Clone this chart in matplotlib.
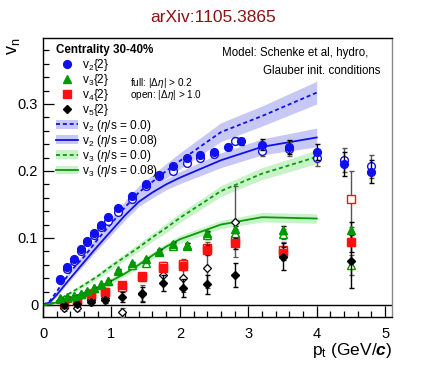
import matplotlib
matplotlib.use("Agg")
import matplotlib.pyplot as plt
from matplotlib import font_manager
from matplotlib.lines import Line2D
from matplotlib.patches import Patch
from matplotlib.ticker import MultipleLocator, FixedLocator, FuncFormatter

names = {f.name for f in font_manager.fontManager.ttflist}
FONT = "Liberation Sans Narrow" if "Liberation Sans Narrow" in names else "Liberation Sans"
plt.rcParams['font.family'] = [FONT, 'DejaVu Sans']
plt.rcParams['mathtext.fontset'] = 'custom'
plt.rcParams['mathtext.rm'] = FONT
plt.rcParams['mathtext.it'] = FONT + ':italic'
plt.rcParams['mathtext.bf'] = FONT + ':bold'
try:
    plt.rcParams['mathtext.bfit'] = FONT + ':italic:bold'
except KeyError:
    pass

# ---------------- data ----------------
v2_pt = [0.25, 0.35, 0.45, 0.55, 0.65, 0.75, 0.85, 0.95, 1.1, 1.3, 1.5, 1.7, 1.9,
         2.1, 2.3, 2.5, 2.7, 2.9, 3.2, 3.6, 4.0, 4.4, 4.8]
v2_full = [0.039, 0.056, 0.068, 0.083, 0.096, 0.108, 0.119, 0.132, 0.145, 0.162, 0.180, 0.194, 0.208,
           0.219, 0.224, 0.229, 0.236, 0.244, 0.239, 0.236, 0.229, 0.211, 0.199]
v2_full_err = [0.001, 0.001, 0.001, 0.001, 0.001, 0.001, 0.001, 0.001, 0.001, 0.001, 0.002, 0.002, 0.002,
               0.002, 0.003, 0.003, 0.004, 0.005, 0.008, 0.010, 0.012, 0.018, 0.017]
v2o_pt = [0.25, 0.35, 0.45, 0.55, 0.65, 0.75, 0.85, 0.95, 1.1, 1.3, 1.5, 1.7, 1.9,
          2.1, 2.3, 2.5, 2.8, 3.2, 3.6, 4.0, 4.4, 4.8]
v2_open = [0.037, 0.053, 0.066, 0.081, 0.094, 0.105, 0.116, 0.126, 0.139, 0.158, 0.177, 0.192, 0.200,
           0.212, 0.220, 0.226, 0.245, 0.230, 0.233, 0.220, 0.216, 0.207]
v2_open_err = [0.001, 0.001, 0.001, 0.001, 0.001, 0.001, 0.001, 0.001, 0.001, 0.002, 0.002, 0.002, 0.002,
               0.003, 0.003, 0.004, 0.005, 0.008, 0.010, 0.012, 0.018, 0.017]

v3_pt = [0.25, 0.35, 0.45, 0.55, 0.65, 0.75, 0.85, 0.95, 1.1, 1.3, 1.5, 1.7, 1.9, 2.1, 2.4, 2.8, 3.5, 4.5]
v3_full = [0.010, 0.012, 0.014, 0.017, 0.021, 0.026, 0.031, 0.036, 0.052, 0.062, 0.068, 0.081, 0.091,
           0.090, 0.107, 0.113, 0.112, 0.112]
v3_full_err = [0.001, 0.001, 0.001, 0.001, 0.001, 0.001, 0.001, 0.001, 0.002, 0.002, 0.002, 0.003, 0.003,
               0.003, 0.004, 0.005, 0.006, 0.012]
v3_open = [0.009, 0.011, 0.013, 0.016, 0.020, 0.025, 0.030, 0.035, 0.050, 0.060, 0.062, 0.079, 0.088,
           0.088, 0.104, 0.108, 0.106, 0.060]
v3_open_err = [0.001, 0.001, 0.001, 0.001, 0.001, 0.001, 0.002, 0.002, 0.002, 0.003, 0.003, 0.003, 0.004,
               0.004, 0.005, 0.006, 0.007, 0.015]

v45_pt = [0.3, 0.5, 0.7, 0.9, 1.15, 1.45, 1.75, 2.05, 2.4, 2.8, 3.5, 4.5]
v4_full = [0.0035, 0.0075, 0.016, 0.020, 0.030, 0.043, 0.055, 0.058, 0.082, 0.092, 0.077, 0.094]
v4_full_err = [0.003, 0.003, 0.003, 0.003, 0.004, 0.004, 0.005, 0.006, 0.007, 0.008, 0.010, 0.015]
v4_open = [0.002, 0.006, 0.014, 0.019, 0.027, 0.041, 0.058, 0.061, 0.085, 0.097, 0.082, 0.158]
v4_open_err = [0.004, 0.004, 0.004, 0.004, 0.005, 0.005, 0.006, 0.008, 0.009, 0.010, 0.012, 0.042]
v5_full = [0.000, 0.002, 0.004, 0.008, 0.012, 0.016, 0.033, 0.025, 0.031, 0.045, 0.072, 0.065]
v5_full_err = [0.004, 0.004, 0.004, 0.005, 0.007, 0.011, 0.012, 0.013, 0.014, 0.018, 0.020, 0.040]
v5o_pt = [0.3, 0.5, 0.7, 0.9, 1.15, 1.45, 1.75, 2.05, 2.4, 2.8]
v5_open = [-0.004, -0.004, 0.008, 0.010, -0.011, 0.018, 0.045, 0.040, 0.055, 0.124]
v5_open_err = [0.005, 0.005, 0.005, 0.006, 0.007, 0.012, 0.015, 0.020, 0.030, 0.053]

model_pt = [0, 0.1, 0.2, 0.4, 0.6, 0.8, 1.0, 1.2, 1.4, 1.6, 1.8, 2.0, 2.6, 3.2, 4.0]
v2_ideal = [0, 0.006, 0.020, 0.050, 0.072, 0.098, 0.122, 0.146, 0.168, 0.184, 0.200, 0.215, 0.258, 0.282, 0.317]
v2_ideal_band = [0, 0.001, 0.002, 0.004, 0.006, 0.007, 0.008, 0.009, 0.010, 0.010, 0.011, 0.012, 0.014, 0.015, 0.017]
v2_visc = [0, 0.004, 0.015, 0.040, 0.064, 0.088, 0.111, 0.134, 0.154, 0.168, 0.180, 0.190, 0.216, 0.236, 0.250]
v2_visc_band = [0, 0.001, 0.002, 0.003, 0.004, 0.005, 0.006, 0.007, 0.007, 0.008, 0.008, 0.009, 0.011, 0.012, 0.014]
v3_ideal = [0, 0.0015, 0.006, 0.018, 0.030, 0.043, 0.058, 0.072, 0.086, 0.101, 0.115, 0.130, 0.170, 0.196, 0.221]
v3_ideal_band = [0, 0.0005, 0.001, 0.002, 0.003, 0.004, 0.005, 0.005, 0.006, 0.006, 0.007, 0.007, 0.008, 0.009, 0.010]
v3_visc = [0, 0.001, 0.004, 0.011, 0.018, 0.026, 0.036, 0.047, 0.060, 0.074, 0.087, 0.098, 0.120, 0.131, 0.129]
v3_visc_band = [0, 0.0005, 0.001, 0.002, 0.003, 0.003, 0.004, 0.004, 0.005, 0.005, 0.005, 0.006, 0.006, 0.007, 0.007]

# ---------------- style ----------------
BLUE = '#1010ee'
BLUE_BAND = '#c8c8f6'
GREEN = '#009a00'
GREEN_LINE = '#0a9a0a'
GREEN_BAND = '#c8f2c8'
RED = '#ff1010'
BLACK = 'black'
GREY = '#555555'

fig = plt.figure(figsize=(4.36, 3.76), dpi=100)
ax = fig.add_axes([43 / 436, 1 - 317 / 376, 349 / 436, 279 / 376])
ax.set_xlim(0, 5.1)
ax.set_ylim(-0.018, 0.3985)


def band(y, e):
    return [a - b for a, b in zip(y, e)], [a + b for a, b in zip(y, e)]


for y, e, col in [(v2_ideal, v2_ideal_band, BLUE_BAND), (v2_visc, v2_visc_band, BLUE_BAND),
                  (v3_ideal, v3_ideal_band, GREEN_BAND), (v3_visc, v3_visc_band, GREEN_BAND)]:
    lo, hi = band(y, e)
    ax.fill_between(model_pt, lo, hi, color=col, lw=0, zorder=1)

dash = (0, (2.2, 1.6))
ax.plot(model_pt, v2_ideal, color=BLUE, lw=1.3, ls=dash, zorder=2)
ax.plot(model_pt, v2_visc, color=BLUE, lw=1.3, zorder=2)
ax.plot(model_pt, v3_ideal, color=GREEN_LINE, lw=1.3, ls=dash, zorder=2)
ax.plot(model_pt, v3_visc, color=GREEN_LINE, lw=1.3, zorder=2)

ax.axhline(0, color='black', lw=1.0, zorder=1.5)

ekw = dict(ls='none', capsize=1.8, elinewidth=1.0, capthick=1.0)
# open markers (|d eta| > 1.0)
ax.errorbar(v45_pt, v4_open, yerr=v4_open_err, marker='s', ms=5.4, mfc='white', mec=RED, mew=1.0,
            ecolor=GREY, zorder=3, **ekw)
ax.errorbar(v5o_pt, v5_open, yerr=v5_open_err, marker='D', ms=3.9, mfc='white', mec=BLACK, mew=0.9,
            ecolor=GREY, zorder=3, **ekw)
ax.errorbar(v3_pt, v3_open, yerr=v3_open_err, marker='^', ms=6.2, mfc='white', mec=GREEN, mew=1.0,
            ecolor=GREY, zorder=3, **ekw)
ax.errorbar(v2o_pt, v2_open, yerr=v2_open_err, marker='o', ms=5.6, mfc='white', mec=BLUE, mew=1.0,
            ecolor=GREY, zorder=3, **ekw)
# full markers (|d eta| > 0.2)
ax.errorbar(v45_pt, v4_full, yerr=v4_full_err, marker='s', ms=5.4, color=RED, mec=RED,
            ecolor=BLACK, zorder=4, **ekw)
ax.errorbar(v45_pt, v5_full, yerr=v5_full_err, marker='D', ms=3.9, color=BLACK,
            ecolor=BLACK, zorder=4, **ekw)
ax.errorbar(v3_pt, v3_full, yerr=v3_full_err, marker='^', ms=6.2, color=GREEN,
            ecolor=BLACK, zorder=4, **ekw)
ax.errorbar(v2_pt, v2_full, yerr=v2_full_err, marker='o', ms=5.6, color=BLUE,
            ecolor=BLACK, zorder=4, **ekw)

# axes style
ax.xaxis.set_major_locator(MultipleLocator(1))
ax.xaxis.set_minor_locator(MultipleLocator(0.2))
ax.yaxis.set_major_locator(FixedLocator([0, 0.1, 0.2, 0.3]))
ax.yaxis.set_minor_locator(MultipleLocator(0.02))
ax.yaxis.set_major_formatter(FuncFormatter(lambda v, p: '0' if abs(v) < 1e-9 else f'{v:.1f}'))
ax.tick_params(which='both', direction='in', top=False, right=False, labelsize=10.5)
ax.tick_params(which='major', length=8, width=0.9)
ax.tick_params(which='minor', length=4, width=0.9)
ax.tick_params(axis='x', pad=7)
for s in ax.spines.values():
    s.set_linewidth(1.0)
ax.spines['right'].set_color('#888888')

ax.set_xlabel(r'p$_{\mathrm{t}}$ (GeV/$\mathbfit{c}$)', fontsize=12.5, ha='right', x=1.0)
ax.xaxis.set_label_coords(1.0, -0.085)
ax.xaxis.label.set_va('top')
ax.set_ylabel(r'v$_{\mathrm{n}}$', fontsize=13, ha='right', y=1.0)
ax.yaxis.set_label_coords(-0.06, 1.0)

fig.text(213 / 436, 1 - 17 / 376, 'arXiv:1105.3865', color='#8b1212', fontsize=12.5,
         ha='center', va='center')

ax.text(0.933, 0.947, 'Model: Schenke et al, hydro,', transform=ax.transAxes, fontsize=8.3,
        ha='right', va='center')
ax.text(0.966, 0.883, 'Glauber init. conditions', transform=ax.transAxes, fontsize=8.3,
        ha='right', va='center')
ax.text(0.25, 0.84, r'full: |$\Delta\eta$| > 0.2', transform=ax.transAxes, fontsize=7.2,
        ha='left', va='center')
ax.text(0.25, 0.795, r'open: |$\Delta\eta$| > 1.0', transform=ax.transAxes, fontsize=7.2,
        ha='left', va='center')

handles = [
    Line2D([], [], marker='o', ls='none', color=BLUE, ms=5.6),
    Line2D([], [], marker='^', ls='none', color=GREEN, ms=6.2),
    Line2D([], [], marker='s', ls='none', color=RED, ms=5.4),
    Line2D([], [], marker='D', ls='none', color=BLACK, ms=3.9),
    (Patch(facecolor=BLUE_BAND, lw=0), Line2D([], [], color=BLUE, lw=1.3, ls=dash)),
    (Patch(facecolor=BLUE_BAND, lw=0), Line2D([], [], color=BLUE, lw=1.3)),
    (Patch(facecolor=GREEN_BAND, lw=0), Line2D([], [], color=GREEN_LINE, lw=1.3, ls=dash)),
    (Patch(facecolor=GREEN_BAND, lw=0), Line2D([], [], color=GREEN_LINE, lw=1.3)),
]
labels = [r'v$_2${2}', r'v$_3${2}', r'v$_4${2}', r'v$_5${2}',
          r'v$_2$ ($\eta$/s = 0.0)', r'v$_2$ ($\eta$/s = 0.08)',
          r'v$_3$ ($\eta$/s = 0.0)', r'v$_3$ ($\eta$/s = 0.08)']
leg = ax.legend(handles, labels, loc='upper left', bbox_to_anchor=(0.025, 0.995), frameon=False,
                fontsize=8.6, title='Centrality 30-40%', alignment='left',
                title_fontproperties={'weight': 'bold', 'size': 8.4},
                handlelength=1.85, handleheight=0.75, handletextpad=0.35, labelspacing=-0.07,
                borderaxespad=0.15, borderpad=0.2)
leg._legend_box.sep = 1

fig.savefig('out.png', dpi=100)
